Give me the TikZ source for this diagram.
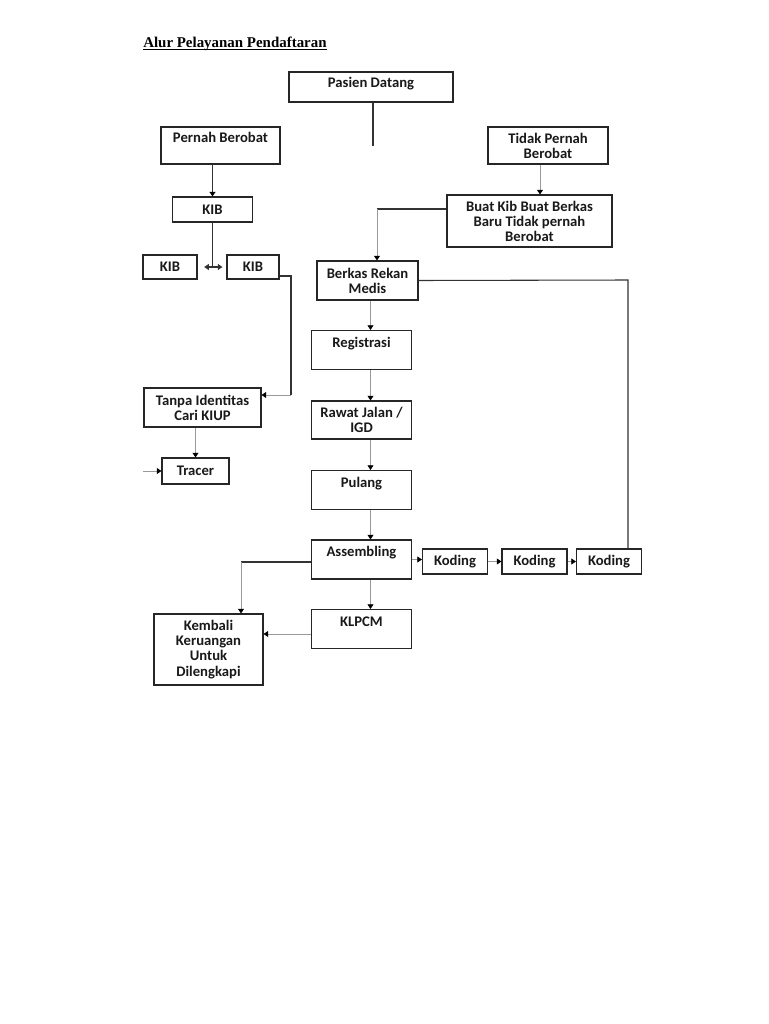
\documentclass[tikz,border=0pt]{standalone}
\usepackage{fontspec}
\setmainfont{Carlito}
\newfontfamily\titlefont{Liberation Serif}
\usetikzlibrary{arrows.meta}

\begin{document}
\begin{tikzpicture}[x=0.75pt,y=-0.75pt,-]
                \tikzstyle{box}=[rectangle,draw=black!85,line width=0.8pt,fill=white,inner sep=2pt,align=center,text=black!90,font=\fontsize{11}{11.3}\selectfont\bfseries]
                \tikzstyle{topline}=[text height=7.5pt,text depth=12pt]
                \tikzstyle{dark}=[draw=black!80,line width=0.8pt]
                \tikzstyle{light}=[draw=black!40,line width=0.6pt]
                \tikzstyle{arr}=[-{Triangle[length=3.5pt,width=4.5pt,color=black]}]
                \useasboundingbox (0,0) rectangle (768,1024);

                \node[anchor=base west,inner sep=0pt,font=\titlefont\fontsize{11.2}{13}\selectfont\bfseries] (Title) at (143,48) {Alur Pelayanan Pendaftaran};
                \draw[line width=0.6pt] ([yshift=-1.3pt]Title.base west) -- ([yshift=-1.3pt]Title.base east);

                \node[box,minimum width=123pt,minimum height=22.5pt,text height=7.5pt,text depth=6.5pt] (Pasien) at (371,87) {Pasien Datang};
                \node[box,topline,minimum width=89.25pt,minimum height=27.75pt] (Pernah) at (220.5,145.5) {Pernah Berobat};
                \node[box,minimum width=90pt,minimum height=27.75pt] (Tidak) at (548,145.5) {Tidak Pernah\\Berobat};
                \node[box,minimum width=123.75pt,minimum height=39pt] (Buat) at (529.5,221) {Buat Kib Buat Berkas\\Baru Tidak pernah\\Berobat};
                \node[box,minimum width=60pt,minimum height=18.75pt] (KibA) at (212.5,209.5) {KIB};
                \node[box,minimum width=40.5pt,minimum height=18pt] (KibB) at (170,267) {KIB};
                \node[box,minimum width=39pt,minimum height=18pt] (KibC) at (253,267) {KIB};
                \node[box,minimum width=75.75pt,minimum height=29.25pt] (Berkas) at (367.5,280.5) {Berkas Rekan\\Medis};
                \node[box,minimum width=75pt,minimum height=28.5pt] (Rawat) at (361.5,420) {Rawat Jalan /\\IGD};
                \foreach \name/\y/\txt in {Reg/350/Registrasi, Pulang/490/Pulang, Assem/559.5/Assembling, Klpcm/629/KLPCM}
                        \node[box,topline,minimum width=75pt,minimum height=29.25pt] (\name) at (361.5,\y) {\txt};
                \foreach \num/\x in {1/455, 2/534.5, 3/609}
                        \node[box,minimum width=48.75pt,minimum height=18.75pt] (Kod-\num) at (\x,561.5) {Koding};
                \node[box,minimum width=87.75pt,minimum height=29.25pt] (Tanpa) at (202.5,407.5) {Tanpa Identitas\\Cari KIUP};
                \node[box,minimum width=50.25pt,minimum height=19.5pt] (Tracer) at (195.5,471) {Tracer};
                \node[box,minimum width=81.75pt,minimum height=53.25pt] (Kembali) at (208.5,649.5) {Kembali\\Keruangan\\Untuk\\Dilengkapi};

                % bends and loose ends
                \coordinate (PasienEnd) at (373,146);
                \coordinate (BuatBend) at (377,209);
                \coordinate (KibBend) at (291,395);
                \coordinate (TracerIn) at (143,471);
                \coordinate (BerkasBend) at (628,280);
                \coordinate (AssemBend) at (241,562);

                \draw[dark,line width=1pt] (Pasien.south -| PasienEnd) -- (PasienEnd);
                \draw[dark,arr] (KibA.north |- Pernah.south) -- (KibA.north);
                \draw[light,arr] ([xshift=-6pt]Tidak.south) -- ([xshift=-6pt]Tidak.south |- Buat.north);
                \draw[dark] ([yshift=9pt]Buat.west) -- (BuatBend);
                \draw[light,arr] (BuatBend) -- (BuatBend |- Berkas.north);
                \draw[dark] (KibA.south) -- (KibA.south |- KibB.east);
                \draw[dark,{Triangle[length=3.5pt,width=4.5pt]}-{Triangle[length=3.5pt,width=4.5pt]},shorten <=5pt,shorten >=3pt] (KibB.east) -- (KibC.west);
                \draw[dark] ([yshift=-6.75pt]KibC.east) -| (KibBend);
                \draw[light,arr] (KibBend) -- (KibBend -| Tanpa.east);
                \draw[light,arr] (Tracer.north |- Tanpa.south) -- (Tracer.north);
                \draw[light,arr] (TracerIn) -- (Tracer.west);
                \foreach \from/\to in {Berkas/Reg, Reg/Rawat, Rawat/Pulang, Pulang/Assem, Assem/Klpcm}
                        \draw[light,arr] ([xshift=6.75pt]\to.north |- \from.south) -- ([xshift=6.75pt]\to.north);
                \draw[dark] (Berkas.east) -- (BerkasBend) -- (BerkasBend |- Kod-3.north);
                \draw[light,arr] (Assem.east) -- (Assem.east -| Kod-1.west);
                \foreach \from/\to in {1/2, 2/3}
                        \draw[light,arr] (Kod-\from.east) -- (Kod-\to.west);
                \draw[dark] (Assem.west |- AssemBend) -- (AssemBend);
                \draw[light,arr] (AssemBend) -- (AssemBend |- Kembali.north);
                \draw[light,arr] ([yshift=-3.75pt]Klpcm.west) -- ([yshift=-3.75pt]Klpcm.west -| Kembali.east);
\end{tikzpicture}
\end{document}
